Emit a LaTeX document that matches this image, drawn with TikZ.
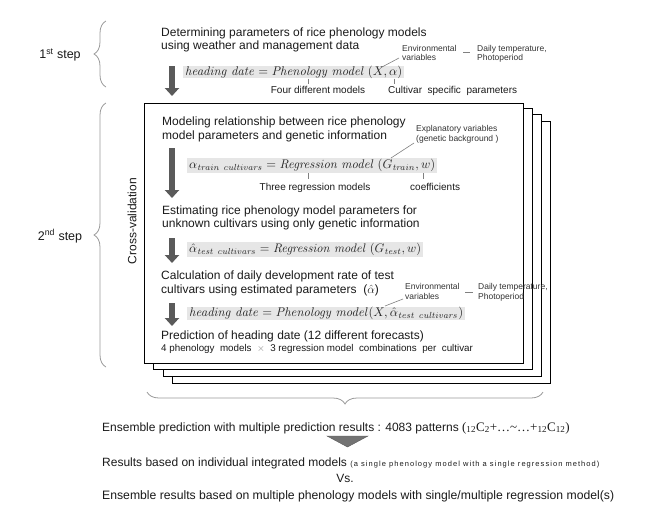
\documentclass[tikz,border=0pt]{standalone}
\usepackage[no-math]{fontspec}
\usepackage{graphicx}
\setmainfont{Liberation Sans}
\newfontfamily\serifrm{Liberation Serif}
\usetikzlibrary{decorations.pathreplacing,arrows.meta}
\definecolor{boxgray}{HTML}{E6E6E6}
\definecolor{formtext}{HTML}{262626}
\definecolor{smalltext}{HTML}{333333}
\definecolor{arrowgray}{HTML}{5A5A5A}
\definecolor{bracegray}{HTML}{9A9A9A}
\definecolor{leadgray}{HTML}{808080}
\definecolor{inkblack}{HTML}{1A1A1A}
\newcommand{\fitformula}[2]{\resizebox{#1pt}{!}{$#2$}}
\begin{document}
\begin{tikzpicture}[x=1pt,y=-1pt,
  txt/.style={anchor=base west, font=\fontsize{12}{13.6}\selectfont, inner sep=0pt, align=left, text=inkblack},
  small/.style={anchor=base west, font=\fontsize{8.5}{9.6}\selectfont, inner sep=0pt, align=left, text=smalltext},
  note/.style={anchor=base, font=\fontsize{10}{11}\selectfont, inner sep=0pt, text=inkblack},
  formbox/.style={fill=boxgray, inner xsep=2pt, inner ysep=0pt, text=formtext, anchor=west},
  bigarrow/.style={line width=6pt, draw=arrowgray, -{Triangle[length=8pt,width=14pt]}},
  bracket/.style={draw=bracegray, line width=0.8pt, decorate, decoration={brace, amplitude=12pt}},
  leader/.style={draw=leadgray, line width=0.6pt},
  card/.style={draw=black, fill=white, line width=0.9pt},
  steplabel/.style={anchor=center, font=\fontsize{12.5}{13}\selectfont, inner sep=0pt, text=inkblack}
]
\useasboundingbox (0,0) rectangle (666,509);

% ---------- 1st step ----------
\node[steplabel] (s1) at (60,55) {1\textsuperscript{st} step};
\draw[bracket] (106,87) -- (106,21);

\node[txt] (t1) at (161,49.6) {Determining parameters of rice phenology models\\using weather and management data};
\node[formbox, minimum height=12.5pt] (f1) at (183,72) {\fitformula{217}{\mathit{heading\ date} = \mathit{Phenology\ model}\ (X, \alpha)}};
\coordinate (a0s) at (172,66);
\coordinate (a0e) at (172,96);
\draw[bigarrow] (a0s) -- (a0e);

\node[small] (env1) at (402,60.6) {Environmental\\variables};
\node[small] (daily1) at (477,60.6) {Daily temperature,\\Photoperiod};
\coordinate (d1a) at (463,52);
\coordinate (d1b) at (470,52);
\draw[leader] (d1a) -- (d1b);
\coordinate (x1) at (382,67);
\coordinate (x1e) at (399,58);
\draw[leader] (x1) -- (x1e);

\coordinate (m1a) at (308,78.5);
\coordinate (m1b) at (308,84);
\draw[leader] (m1a) -- (m1b);
\node[note] (four) at (318,93) {Four different models};
\coordinate (al1a) at (394,78.5);
\coordinate (al1b) at (394,84);
\draw[leader] (al1a) -- (al1b);
\node[note, anchor=base west] (cult) at (388,93) {Cultivar\ \ specific\ \ parameters};

% ---------- 2nd step ----------
\node[steplabel] (s2) at (60,236) {2\textsuperscript{nd} step};
\draw[bracket] (106,367) -- (106,103);

\draw[card] (172,121) rectangle (550,383);
\draw[card] (163,114) rectangle (541,376);
\draw[card] (153,108) rectangle (532,369);
\draw[card] (144,103) rectangle (523,363);

\node[rotate=90, anchor=center, font=\fontsize{12}{13}\selectfont, inner sep=0pt, text=inkblack] (cv) at (132,221) {Cross-validation};

\node[txt] (t2) at (162,139) {Modeling relationship between rice phenology\\model parameters and genetic information};
\node[small] (expl) at (416,141) {Explanatory variables\\(genetic background~)};
\node[formbox, minimum height=15pt] (f2) at (187,165.5) {\fitformula{246}{\alpha_{\mathit{train\ cultivars}} = \mathit{Regression\ model}\ (G_{\mathit{train}}, w)}};
\coordinate (a1s) at (172,148);
\coordinate (a1e) at (172,198);
\draw[bigarrow] (a1s) -- (a1e);
\coordinate (g1) at (391,158);
\coordinate (g1e) at (414,143);
\draw[leader] (g1) -- (g1e);
\coordinate (r1a) at (308,173);
\coordinate (r1b) at (308,179);
\draw[leader] (r1a) -- (r1b);
\node[note] (three) at (315,190) {Three regression models};
\coordinate (w1a) at (423,173);
\coordinate (w1b) at (423,179);
\draw[leader] (w1a) -- (w1b);
\node[note, anchor=base west] (coef) at (410,190) {coefficients};

\node[txt] (t3) at (162,227.6) {Estimating rice phenology model parameters for\\unknown cultivars using only genetic information};
\coordinate (a2s) at (172,238);
\coordinate (a2e) at (172,263);
\draw[bigarrow] (a2s) -- (a2e);
\node[formbox, minimum height=15pt] (f3) at (187,249.5) {\fitformula{232}{\hat{\alpha}_{\mathit{test\ cultivars}} = \mathit{Regression\ model}\ (G_{\mathit{test}}, w)}};

\node[txt] (t4a) at (161,279) {Calculation of daily development rate of test};
\node[txt] (t4b) at (161,293.6) {cultivars using estimated parameters~~($\hat{\alpha}$)};
\node[small] (env2) at (405,299) {Environmental\\variables};
\node[small] (daily2) at (478,299) {Daily temperature,\\Photoperiod};
\coordinate (d2a) at (465,292.5);
\coordinate (d2b) at (473,292.5);
\draw[leader] (d2a) -- (d2b);
\coordinate (a3s) at (172,303);
\coordinate (a3e) at (172,326);
\draw[bigarrow] (a3s) -- (a3e);
\node[formbox, minimum height=13pt] (f4) at (187,313.5) {\fitformula{274}{\mathit{heading\ date} = \mathit{Phenology\ model}(X, \hat{\alpha}_{\mathit{test\ cultivars}})}};
\coordinate (x2) at (385,306);
\coordinate (x2e) at (403,299);
\draw[leader] (x2) -- (x2e);

\node[txt] (t5) at (161,339) {Prediction of heading date (12 different forecasts)};
\node[anchor=base west, inner sep=0pt, font=\fontsize{9.8}{10}\selectfont, text=inkblack] (t6) at (161,351) {4 phenology\ \ models\ \ {\color{leadgray}$\times$}\ \ 3 regression model\ \ combinations\ \ per\ \ cultivar};

% ---------- bottom ----------
\draw[bracket] (543,392) -- (147,392);

\node[txt] (e1) at (102,431) {Ensemble prediction with multiple prediction results : 4083 patterns {\serifrm\fontsize{13}{14}\selectfont(\textsubscript{12}C\textsubscript{2}+…\textasciitilde…+\textsubscript{12}C\textsubscript{12})}};
\coordinate (tri1) at (327,436);
\coordinate (tri2) at (368,436);
\coordinate (tri3) at (347.5,447);
\draw[fill=arrowgray!85, draw=arrowgray] (tri1) -- (tri2) -- (tri3) -- cycle;
\node[txt] (e2) at (102,466) {Results based on individual integrated models {\fontsize{7.5}{8}\selectfont\addfontfeature{LetterSpace=14}(a single phenology model with a single regression method)}};
\node[txt, anchor=base] (vs) at (345,482) {Vs.};
\node[txt, font=\fontsize{12.2}{13}\selectfont] (e3) at (102,499) {Ensemble results based on multiple phenology models with single/multiple regression model(s)};
\end{tikzpicture}
\end{document}
